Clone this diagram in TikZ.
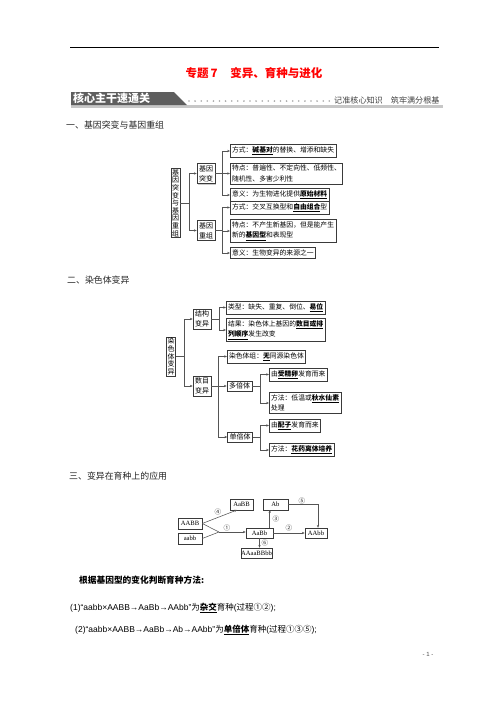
\documentclass[tikz,border=0pt]{standalone}
\usepackage{fontspec}
\setmainfont{Noto Sans CJK SC}
\newfontfamily\lat{Liberation Sans}
\newfontfamily\tnr{Liberation Serif}
\usetikzlibrary{arrows.meta,shadows,calc}
\newcommand{\kw}[1]{\underline{\textbf{#1}}}
\definecolor{ln}{HTML}{555555}
\definecolor{bd}{HTML}{3A3A3A}
\definecolor{bannergray}{HTML}{5E5E5E}
\tikzset{
  shad/.style={drop shadow={shadow xshift=0.8pt, shadow yshift=-0.8pt, fill=black!40}},
  bx/.style={draw=bd, line width=0.5pt, fill=white, inner xsep=1.8pt, inner ysep=2.1pt,
    font=\fontsize{6.8}{10.5}\selectfont, align=left, anchor=west, shad},
  vbx/.style={draw=bd, line width=0.5pt, fill=white, inner sep=1pt, align=center,
    font=\fontsize{7}{7.6}\selectfont, shad},
  mbx/.style={draw=bd, line width=0.5pt, fill=white, inner sep=2pt, align=center,
    font=\fontsize{7}{10}\selectfont, shad},
  sbx/.style={draw=bd, line width=0.5pt, fill=white, inner sep=2pt,
    font=\fontsize{7}{8}\selectfont, shad},
  con/.style={draw=ln, line width=0.55pt},
  arr/.style={con, -{Stealth[length=2.8pt,width=2.3pt]}},
  gbx/.style={draw=bd, line width=0.5pt, fill=white, inner sep=0pt, minimum height=10.5pt,
    font=\tnr\fontsize{6.6}{7}\selectfont},
  num/.style={font=\fontsize{6.6}{7}\selectfont, inner sep=0pt, text=black!80},
  head/.style={font=\fontsize{8.9}{10}\selectfont, anchor=west, inner sep=0pt, text=black!85},
  txt/.style={anchor=west, inner sep=0pt, font=\fontsize{8.5}{10}\selectfont}
}
\begin{document}
\begin{tikzpicture}[x=1pt,y=-1pt]
\useasboundingbox (0,0) rectangle (496,702);
\fill[white] (0,0) rectangle (496,702);

% ---------- header ----------
\coordinate (hl) at (70,47);
\coordinate (hr) at (439,47);
\draw[line width=0.9pt] (hl) -- (hr);
\node[font=\fontsize{11.5}{12}\selectfont\bfseries, text=red] (title) at (254,73)
  {专题\,7\hspace{1.1em}变异、育种与进化};

% banner
\fill[black!22] (71,104.5) rectangle (443,107.5);
\fill[bannergray] (71,92) -- (174,92) -- (187,105) -- (71,105) -- cycle;
\node[anchor=west, text=white, font=\fontsize{11}{12}\selectfont\bfseries, inner sep=0pt]
  (bannertext) at (73,98.5) {核心主干速通关};
\foreach \i in {0,...,23} \fill[black!35] ({189+\i*6.1},101) circle (0.9);
\node[anchor=west, font=\fontsize{8.1}{9}\selectfont, text=black!75, inner sep=0pt]
  (motto) at (334,100.5) {记准核心知识\hspace{1em}筑牢满分根基};

% ---------- section 1 ----------
\node[head] (h1) at (66,125) {一、基因突变与基因重组};

\node[vbx] (L1) at (175.5,203) {基\\因\\突\\变\\与\\基\\因\\重\\组};
\node[mbx] (M1) at (206,173.5) {基因\\突变};
\node[mbx] (M2) at (206,230.5) {基因\\重组};
\node[bx] (B1) at (230,151) {方式：\kw{碱基对}的替换、增添和缺失};
\node[bx] (B2) at (230,173.5) {特点：普遍性、不定向性、低频性、\\随机性、多害少利性};
\node[bx] (B3) at (230,195) {意义：为生物进化提供\kw{原始材料}};
\node[bx] (B4) at (230,207.5) {方式：交叉互换型和\kw{自由组合}型};
\node[bx] (B5) at (230,231) {特点：不产生新基因，但是能产生\\新的\kw{基因型}和表现型};
\node[bx] (B6) at (230,253) {意义：生物变异的来源之一};

\coordinate (t1) at (189,0);
\coordinate (t2) at (222,0);
\draw[con] (L1.east) -- (L1.east -| t1);
\draw[con] (t1 |- M1.west) -- (t1 |- M2.west);
\draw[arr] (t1 |- M1.west) -- (M1.west);
\draw[arr] (t1 |- M2.west) -- (M2.west);
\draw[con] (M1.east) -- (M1.east -| t2);
\draw[con] (t2 |- B1.west) -- (t2 |- B3.west);
\foreach \b in {B1,B2,B3} \draw[arr] (t2 |- \b.west) -- (\b.west);
\draw[con] (M2.east) -- (M2.east -| t2);
\draw[con] (t2 |- B4.west) -- (t2 |- B6.west);
\foreach \b in {B4,B5,B6} \draw[arr] (t2 |- \b.west) -- (\b.west);

% ---------- section 2 ----------
\node[head] (h2) at (67,280) {二、染色体变异};

\node[vbx] (L2) at (171,356.5) {染\\色\\体\\变\\异};
\node[mbx] (N1) at (202,319) {结构\\变异};
\node[mbx] (N2) at (202,386) {数目\\变异};
\node[bx] (C1) at (226,307.5) {类型：缺失、重复、倒位、\kw{易位}};
\node[bx] (C2) at (226,330) {结果：染色体上基因的\kw{数目或排}\\\kw{列顺序}发生改变};
\node[bx] (C3) at (227,356.5) {染色体组：\kw{无}同源染色体};
\node[sbx] (P1) at (239.5,386) {多倍体};
\node[sbx] (P2) at (240,437) {单倍体};
\node[bx] (C4) at (269,374.5) {由\kw{受精卵}发育而来};
\node[bx] (C5) at (269,403) {方法：低温或\kw{秋水仙素}\\处理};
\node[bx] (C6) at (269,425.5) {由\kw{配子}发育而来};
\node[bx] (C7) at (269,450) {方法：\kw{花药离体培养}};

\coordinate (t3) at (184,0);
\coordinate (t4) at (219,0);
\coordinate (t5) at (218,0);
\coordinate (t6) at (260,0);
\draw[con] (L2.east) -- (L2.east -| t3);
\draw[con] (t3 |- N1.west) -- (t3 |- N2.west);
\draw[arr] (t3 |- N1.west) -- (N1.west);
\draw[arr] (t3 |- N2.west) -- (N2.west);
\draw[con] (N1.east) -- (N1.east -| t4);
\draw[con] (t4 |- C1.west) -- (t4 |- C2.west);
\foreach \b in {C1,C2} \draw[arr] (t4 |- \b.west) -- (\b.west);
\draw[con] (N2.east) -- (N2.east -| t5);
\draw[con] (t5 |- C3.west) -- (t5 |- P2.west);
\foreach \b in {C3,P1,P2} \draw[arr] (t5 |- \b.west) -- (\b.west);
\draw[con] (P1.east) -- (P1.east -| t6);
\draw[con] (t6 |- C4.west) -- (t6 |- C5.west);
\foreach \b in {C4,C5} \draw[arr] (t6 |- \b.west) -- (\b.west);
\draw[con] (P2.east) -- (P2.east -| t6);
\draw[con] (t6 |- C6.west) -- (t6 |- C7.west);
\foreach \b in {C6,C7} \draw[arr] (t6 |- \b.west) -- (\b.west);

% ---------- section 3 ----------
\node[head] (h3) at (69,476) {三、变异在育种上的应用};

\node[gbx, minimum width=24pt] (AABB) at (190,523.5) {AABB};
\node[gbx, minimum width=24pt] (aabb) at (190,538.5) {aabb};
\node[gbx, minimum width=23pt] (AaBB) at (241.5,504.5) {AaBB};
\node[gbx, minimum width=25pt] (Ab) at (275.5,504.5) {Ab};
\node[gbx, minimum width=27pt, minimum height=10pt] (AaBb) at (259.5,533) {AaBb};
\node[gbx, minimum width=22pt, minimum height=10pt] (AAbb) at (316,533) {AAbb};
\node[gbx, minimum width=31pt, minimum height=10pt] (AAaa) at (256.5,553) {AAaaBBbb};

\coordinate (J) at (219,532);
\draw[con] (AABB.east) -- (J);
\draw[con] (aabb.east) -- (J);
\draw[arr] (J) -- (J -| AaBb.west);
\draw[arr] (AABB.east) -- ([xshift=-4.5pt]AaBB.south);
\draw[arr] ([xshift=-3.5pt]AaBb.north east) -- ([xshift=-3.5pt]AaBb.north east |- Ab.south);
\draw[arr] (AaBb.east) -- (AaBb.east -| AAbb.west);
\draw[arr] (Ab.east) -| ([xshift=2pt]AAbb.north);
\draw[arr] (AaBb.south) -- (AaBb.south |- AAaa.north);

\node[num] (n4) at (218,512) {④};
\node[num] (n1) at (227,528) {①};
\node[num] (n3) at (276,519) {③};
\node[num] (n2) at (289,528) {②};
\node[num] (n5) at (302,501) {⑤};
\node[num] (n6) at (265,543) {⑥};

% ---------- text ----------
\node[txt, font=\fontsize{8.7}{10}\selectfont\bfseries] (T1) at (79,580) {根据基因型的变化判断育种方法:};
\node[txt] (T2) at (70,608) {{\lat (1)“aabb×AABB→AaBb→AAbb”}为\kw{杂交}育种{\lat (}过程①②{\lat );}};
\node[txt] (T3) at (75,630) {{\lat (2)“aabb×AABB→AaBb→Ab→AAbb”}为\kw{单倍体}育种{\lat (}过程①③⑤{\lat );}};
\node[font=\lat\fontsize{6}{7}\selectfont, text=black!70, inner sep=0pt] (pg) at (428,654) {-\ 1\ -};
\end{tikzpicture}
\end{document}
